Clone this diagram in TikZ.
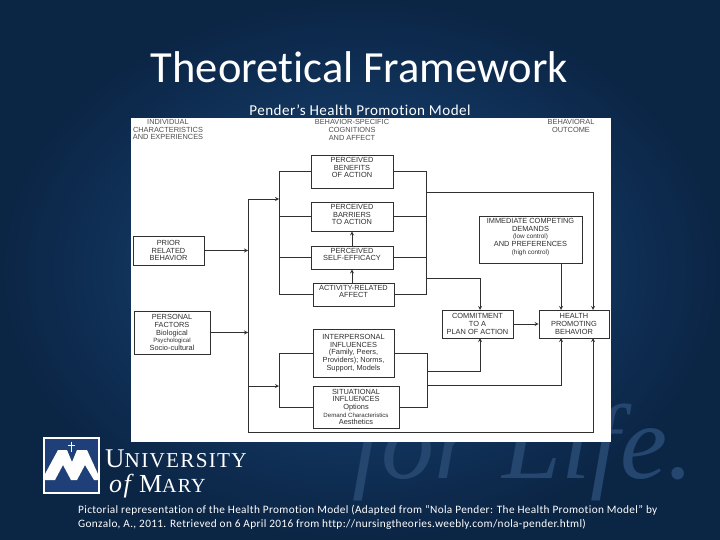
\documentclass[tikz,border=0pt]{standalone}
\usepackage{fontspec}
\setmainfont[Ligatures=NoCommon]{Carlito}
\newfontfamily\spacedfont[Ligatures=NoCommon,LetterSpace=3]{Carlito}
\newfontfamily\panelfont{Liberation Sans}
\newfontfamily\logofont[LetterSpace=6]{Liberation Serif}
\newfontfamily\markfont{Liberation Serif}
\usepackage{tikz}
\newcommand{\lifttext}[1]{\rule[-#1pt]{0pt}{0pt}}
\definecolor{slideblue}{HTML}{1B4A80}
\definecolor{slidedark}{HTML}{0B2545}
\definecolor{markblue}{HTML}{24466F}
\definecolor{inkgray}{HTML}{303030}
\definecolor{logoblue}{HTML}{1E3F78}
\tikzset{
  pbox/.style={draw=inkgray,line width=0.8pt,fill=white,align=center,inner sep=0pt,text=inkgray,
    font=\panelfont\fontsize{7.4}{7.6}\selectfont},
  plabel/.style={align=center,inner sep=0pt,text=inkgray!85,font=\panelfont\fontsize{7.4}{7.6}\selectfont},
  pline/.style={draw=inkgray,line width=0.8pt},
  parrow/.style={pline,->,>=stealth},
  slidetext/.style={text=white,inner sep=0pt}
}
\begin{document}
\begin{tikzpicture}[x=1pt,y=-1pt]
\useasboundingbox (0,0) rectangle (720,540);
\shade[inner color=slideblue,outer color=slidedark] (0,0) rectangle (720,540);
\node[anchor=base west,text=markblue,inner sep=0pt,font=\markfont\itshape\fontsize{106}{106}\selectfont] (mark) at (352,478) {for Life.};
\node[slidetext,font=\fontsize{44.5}{48}\selectfont] (title) at (359.5,67) {Theoretical Framework};
\node[slidetext,font=\spacedfont\fontsize{15.1}{16}\selectfont] (subtitle) at (360,110) {Pender’s Health Promotion Model};
\fill[white] (131,118) rectangle (611,442);

\node[plabel] (indiv) at (168,129.5) {INDIVIDUAL\\CHARACTERISTICS\\AND EXPERIENCES};
\node[plabel] (cogn) at (352,130) {BEHAVIOR-SPECIFIC\\COGNITIONS\\AND AFFECT};
\node[plabel] (outcome) at (571,126) {BEHAVIORAL\\OUTCOME};

\node[pbox,minimum width=82,minimum height=33] (benefits) at (352,171.5) {PERCEIVED\\BENEFITS\\OF ACTION\lifttext{7.5}};
\node[pbox,minimum width=82,minimum height=29] (barriers) at (352,216.5) {PERCEIVED\\BARRIERS\\TO ACTION\lifttext{3.5}};
\node[pbox,minimum width=82,minimum height=23] (efficacy) at (352,257.5) {PERCEIVED\\SELF-EFFICACY\lifttext{6.5}};
\node[pbox,minimum width=81,minimum height=23] (activity) at (353.5,294.5) {ACTIVITY-RELATED\\AFFECT\lifttext{6.5}};
\node[pbox,minimum width=81,minimum height=48] (interp) at (353.5,353) {INTERPERSONAL\\INFLUENCES\\(Family, Peers,\\Providers); Norms,\\Support, Models};
\node[pbox,minimum width=86,minimum height=42] (situat) at (356,407) {SITUATIONAL\\INFLUENCES\\Options\\{\fontsize{6.1}{7.6}\selectfont Demand Characteristics}\\Aesthetics};
\node[pbox,minimum width=71,minimum height=29] (prior) at (168.5,250.5) {PRIOR\\RELATED\\BEHAVIOR};
\node[pbox,minimum width=76,minimum height=43] (personal) at (172,332.5) {PERSONAL\\FACTORS\\Biological\\{\fontsize{6.1}{7.6}\selectfont Psychological}\\Socio-cultural};
\node[pbox,minimum width=103,minimum height=47] (demands) at (530.5,239.5) {IMMEDIATE COMPETING\\DEMANDS\\{\fontsize{6.4}{7.6}\selectfont (low control)}\\AND PREFERENCES\\{\fontsize{6.4}{7.6}\selectfont (high control)}\lifttext{6.5}};
\node[pbox,minimum width=71,minimum height=28] (commit) at (477.5,324) {COMMITMENT\\TO A\\PLAN OF ACTION};
\node[pbox,minimum width=70,minimum height=28] (health) at (574,324) {HEALTH\\PROMOTING\\BEHAVIOR};

\coordinate (trunk) at (248,199);
\coordinate (trunkend) at (248,432);
\coordinate (topbus) at (279,199);
\coordinate (lowbus) at (279,386);
\coordinate (rightbus) at (426,192);
\coordinate (midbus) at (426,278);
\coordinate (lowright) at (427,371);
\coordinate (lowrightb) at (427,385);
\coordinate (commitin) at (480,310);
\coordinate (commitlow) at (480,338);
\coordinate (healtha) at (561,310);
\coordinate (healthb) at (593,310);
\coordinate (healthc) at (561,338);
\coordinate (healthd) at (593,338);

\draw[parrow] (prior.east) -- (prior.east -| trunk);
\draw[parrow] (personal.east) -- (personal.east -| trunk);
\draw[pline] (trunkend) -- (trunk);
\draw[parrow] (trunk) -- (topbus);
\draw[parrow] (trunk |- lowbus) -- (lowbus);
\draw[parrow] (trunkend) -- (trunkend -| healthd) -- (healthd);

\draw[pline] (benefits.west -| topbus) -- (activity.west -| topbus);
\foreach \boxname in {benefits,barriers,efficacy,activity}{
\draw[pline] (\boxname.west -| topbus) -- (\boxname.west);
\draw[pline] (\boxname.east) -- (\boxname.east -| rightbus);
}
\draw[pline] (benefits.east -| rightbus) -- (activity.east -| rightbus);
\draw[parrow] (efficacy.north -| barriers.south) -- (barriers.south);
\draw[parrow] (activity.north -| efficacy.south) -- (efficacy.south);
\draw[parrow] (rightbus) -- (rightbus -| healthb) -- (healthb);
\draw[parrow] (midbus) -- (midbus -| commitin) -- (commitin);
\draw[parrow] (demands.south -| healtha) -- (healtha);
\draw[parrow] (commit.east) -- (health.west);

\draw[pline] (interp.west -| lowbus) -- (situat.west -| lowbus);
\draw[pline] (interp.west -| lowbus) -- (interp.west);
\draw[pline] (situat.west -| lowbus) -- (situat.west);
\draw[pline] (interp.east) -- (interp.east -| lowright) -- (situat.east -| lowright) -- (situat.east);
\draw[parrow] (lowright) -- (lowright -| commitlow) -- (commitlow);
\draw[parrow] (lowrightb) -- (lowrightb -| healthc) -- (healthc);

\draw[white,line width=2pt,fill=logoblue] (44,438) rectangle (99,493);
\fill[white] (45,480) -- (45,474) -- (58,450) -- (67,450) -- (72,462) -- (77,450) -- (87,450) -- (98,474) -- (98,480) -- (94,480) -- (85,465) -- (77,480) -- (71,480) -- (63,465) -- (55,480) -- cycle;
\draw[white,line width=1.4pt] (71.5,442) -- (71.5,452) (68,445.5) -- (75,445.5);
\node[anchor=base west,text=white,inner sep=0pt,font=\logofont\fontsize{27}{28}\selectfont] (univ) at (105,467) {U{\fontsize{21.2}{28}\selectfont NIVERSITY}};
\node[anchor=base west,text=white,inner sep=0pt,font=\logofont\fontsize{26}{28}\selectfont] (mary) at (109,492) {{\itshape of} M{\fontsize{20}{28}\selectfont ARY}};

\node[anchor=north west,slidetext,align=left,font=\spacedfont\fontsize{11.3}{14}\selectfont] (caption) at (78,505.5) {Pictorial representation of the Health Promotion Model (Adapted from “Nola Pender: The Health Promotion Model” by\\Gonzalo, A., 2011. Retrieved on 6 April 2016 from http://nursingtheories.weebly.com/nola-pender.html)};
\end{tikzpicture}
\end{document}
